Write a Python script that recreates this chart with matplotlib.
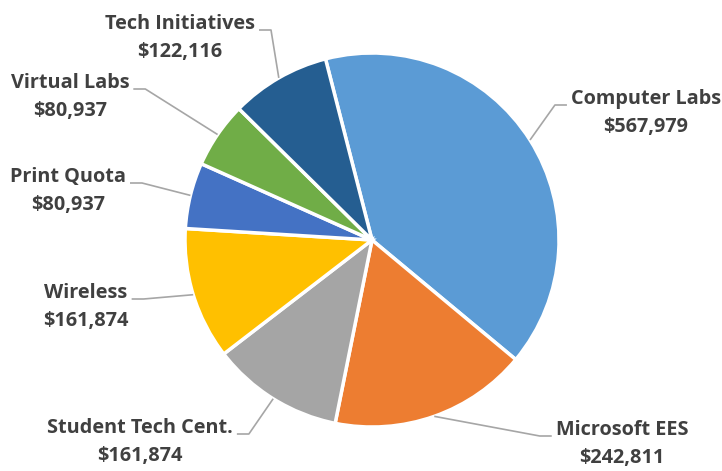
import numpy as np
import matplotlib.pyplot as plt

# budget items, clockwise from the top
categories = ['Computer Labs', 'Microsoft EES', 'Student Tech Cent.', 'Wireless',
              'Print Quota', 'Virtual Labs', 'Tech Initiatives']
amounts = [567979, 242811, 161874, 161874, 80937, 80937, 122116]
colors = ['#5B9BD5', '#ED7D31', '#A5A5A5', '#FFC000', '#4472C4', '#70AD47', '#255E91']

W, H = 722, 471
cx, cy, R = 372, H - 240, 187
start = 104.4

# label text centres (pixel coords, y from top) and which side the elbow sits
label_pos = {
    'Computer Labs': (646, 113, 'left'),
    'Microsoft EES': (622, 444, 'left'),
    'Student Tech Cent.': (140, 442, 'right'),
    'Wireless': (86, 307, 'right'),
    'Print Quota': (68, 191, 'right'),
    'Virtual Labs': (70, 97, 'right'),
    'Tech Initiatives': (180, 38, 'right'),
}

fig = plt.figure(figsize=(W / 100, H / 100), dpi=100)
ax = fig.add_axes([0, 0, 1, 1])
wedges, _ = ax.pie(amounts, colors=colors, startangle=start, counterclock=False,
                   center=(cx, cy), radius=R,
                   wedgeprops=dict(edgecolor='white', linewidth=2.5))
ax.set_xlim(0, W)
ax.set_ylim(0, H)
ax.set_aspect('equal')
ax.axis('off')

font = dict(family=['Open Sans', 'DejaVu Sans'], fontsize=14.3, fontweight='bold',
            color='#404040')
renderer = fig.canvas.get_renderer()

for w, name, amt in zip(wedges, categories, amounts):
    mid = np.deg2rad((w.theta1 + w.theta2) / 2)
    ax_x = cx + R * np.cos(mid)
    ax_y = cy + R * np.sin(mid)
    tx, ty, side = label_pos[name]
    ty = H - ty
    ax.text(tx, ty, f'{name}\n${amt:,}', ha='center', va='center',
            linespacing=1.5, **font)
    # measure the first line to place the elbow beside it
    probe = ax.text(0, 0, name, **font)
    half = probe.get_window_extent(renderer).width / 2 + 4
    probe.remove()
    ey = ty + 8
    if side == 'right':
        x0 = tx + half
        ex = x0 + 12
    else:
        x0 = tx - half
        ex = x0 - 12
    ax.plot([x0, ex, ax_x], [ey, ey, ax_y], color='#A6A6A6', lw=1.2,
            solid_capstyle='butt')

fig.savefig('out.png', dpi=100)
